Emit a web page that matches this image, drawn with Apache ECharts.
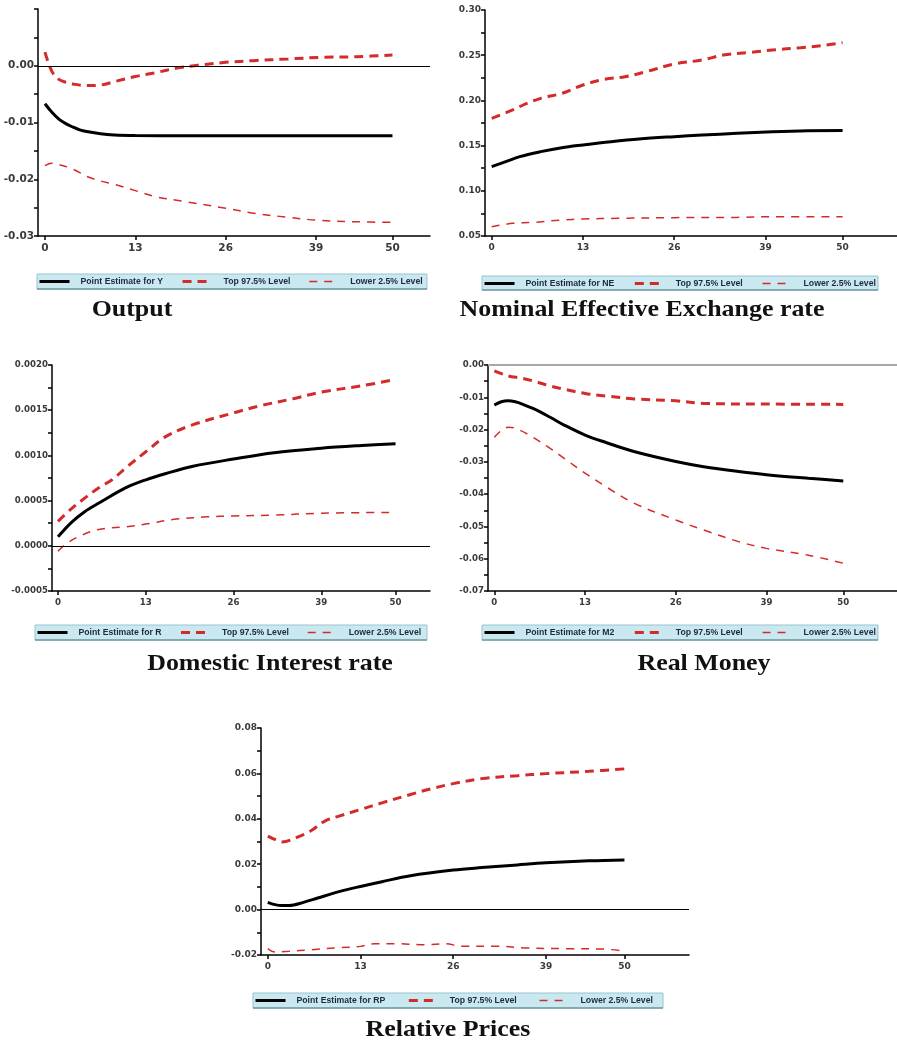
<!DOCTYPE html>
<html>
<head>
<meta charset="utf-8">
<script src="https://cdn.jsdelivr.net/npm/echarts@6/dist/echarts.min.js"></script>
<style>
html,body{margin:0;padding:0;background:#fff;}
#chart{width:897px;height:1048px;}
</style>
</head>
<body>
<div id="chart"></div>
<script>
// ---------- tick labels ----------
const xTickValues = [0, 13, 26, 39, 50];

// ---------- Output (Y) ----------
const outPoint = [[0,-0.0067],[1,-0.0082],[2,-0.0094],[3,-0.0102],[4,-0.0108],[5,-0.0113],[6,-0.0116],[8,-0.0120],[10,-0.0122],[13,-0.0123],[20,-0.01235],[30,-0.01235],[40,-0.01235],[50,-0.01235]];
const outTop = [[0,0.0024],[1,-0.0010],[2,-0.0024],[3,-0.0029],[4,-0.0032],[6,-0.0035],[8,-0.0034],[10,-0.0028],[13,-0.0019],[16,-0.0012],[19,-0.0004],[22,0.0001],[26,0.0006],[30,0.0009],[35,0.0012],[40,0.0015],[45,0.0016],[50,0.0019]];
const outLow = [[0,-0.0176],[1,-0.0172],[2,-0.0174],[4,-0.0182],[6,-0.0195],[8,-0.0203],[10,-0.0209],[13,-0.0220],[16,-0.0231],[20,-0.0239],[26,-0.0251],[30,-0.0260],[35,-0.0267],[39,-0.0272],[45,-0.0275],[50,-0.0276]];

// ---------- Nominal Effective Exchange rate (NE) ----------
const nePoint = [[0,0.1267],[2,0.1322],[4,0.1378],[7,0.1433],[10,0.1477],[13,0.1507],[17,0.1543],[21,0.1573],[26,0.1599],[30,0.1617],[35,0.1636],[40,0.1654],[45,0.1665],[50,0.1667]];
const neTop = [[0,0.1802],[3,0.1894],[5,0.1967],[7,0.2023],[10,0.2078],[13,0.2170],[16,0.2233],[19,0.2262],[22,0.2318],[26,0.2403],[30,0.2447],[33,0.2502],[37,0.2532],[40,0.2558],[44,0.2583],[47,0.2605],[50,0.2639]];
const neLow = [[0,0.0603],[3,0.0640],[6,0.0651],[10,0.0677],[13,0.0688],[18,0.0696],[26,0.0703],[35,0.0706],[40,0.0714],[50,0.0714]];

// ---------- Domestic Interest rate (R) ----------
const rPoint = [[0,0.00010],[2,0.00026],[4,0.00038],[6,0.00047],[10,0.00064],[13,0.00073],[16,0.00080],[20,0.00088],[26,0.00096],[32,0.00103],[39,0.00108],[45,0.00111],[50,0.00113]];
const rTop = [[0,0.00027],[2,0.00041],[4,0.00053],[6,0.00064],[8,0.00073],[10,0.00086],[13,0.00104],[16,0.00121],[20,0.00134],[26,0.00147],[30,0.00155],[35,0.00163],[39,0.00170],[45,0.00177],[50,0.00184]];
const rLow = [[0,-0.00006],[1,0.00001],[3,0.00010],[6,0.00018],[10,0.00021],[13,0.00024],[17,0.00029],[22,0.00032],[26,0.00033],[32,0.00034],[39,0.00036],[50,0.00037]];

// ---------- Real Money (M2) ----------
const m2Point = [[0,-0.0124],[1,-0.0114],[2,-0.0111],[3,-0.0114],[4,-0.0121],[6,-0.0139],[8,-0.0162],[10,-0.0186],[13,-0.0217],[16,-0.0240],[20,-0.0268],[26,-0.0299],[30,-0.0315],[35,-0.0330],[39,-0.0340],[45,-0.0351],[50,-0.0359]];
const m2Top = [[0,-0.0018],[2,-0.0034],[4,-0.0041],[6,-0.0052],[8,-0.0065],[10,-0.0075],[13,-0.0088],[16,-0.0096],[20,-0.0105],[26,-0.0111],[30,-0.0119],[39,-0.0121],[50,-0.0122]];
const m2Low = [[0,-0.0224],[1,-0.0203],[2,-0.0193],[3,-0.0196],[5,-0.0217],[8,-0.0258],[10,-0.0289],[13,-0.0335],[16,-0.0377],[20,-0.0428],[26,-0.0480],[30,-0.0511],[35,-0.0547],[39,-0.0568],[45,-0.0589],[50,-0.0614]];

// ---------- Relative Prices (RP) ----------
const rpPoint = [[0,0.0032],[1,0.0022],[2,0.0018],[3,0.0018],[5,0.0032],[7,0.0051],[10,0.0079],[13,0.0102],[16,0.0123],[20,0.0149],[26,0.0174],[30,0.0185],[35,0.0197],[39,0.0206],[45,0.0215],[50,0.0219]];
const rpTop = [[0,0.0324],[1,0.0309],[2,0.0298],[4,0.0317],[6,0.0346],[8,0.0390],[10,0.0412],[13,0.0441],[16,0.0470],[20,0.0507],[23,0.0533],[26,0.0555],[30,0.0577],[35,0.0590],[39,0.0599],[45,0.0609],[50,0.0620]];
const rpLow = [[0,-0.0172],[1,-0.0187],[3,-0.0184],[6,-0.0177],[10,-0.0168],[13,-0.0162],[15,-0.0150],[18,-0.0150],[22,-0.0155],[25,-0.0150],[27,-0.0161],[32,-0.0161],[36,-0.0169],[42,-0.0172],[47,-0.0174],[50,-0.0182]];

// ---------- names ----------
const titles = ['Output', 'Nominal Effective Exchange rate', 'Domestic Interest rate', 'Real Money', 'Relative Prices'];
const pointNames = ['Point Estimate for Y', 'Point Estimate for NE', 'Point Estimate for R', 'Point Estimate for M2', 'Point Estimate for RP'];
const topName = 'Top 97.5% Level';
const lowName = 'Lower 2.5% Level';

// y axis ranges: [min, max, tick interval, label interval, decimals]
const yRanges = [
  [-0.03, 0.01, 0.005, 0.01, 2],
  [0.05, 0.30, 0.025, 0.05, 2],
  [-0.0005, 0.0020, 0.00025, 0.0005, 4],
  [-0.07, 0.00, 0.005, 0.01, 2],
  [-0.02, 0.08, 0.01, 0.02, 2]
];
const panelData = [
  [outPoint, outTop, outLow],
  [nePoint, neTop, neLow],
  [rPoint, rTop, rLow],
  [m2Point, m2Top, m2Low],
  [rpPoint, rpTop, rpLow]
];

// ---------- layout (positions / styles) ----------
const layout = [
  {grid:{left:38, top:9, width:392, height:227}, xr:[-1, 55.4], hideTop:true, zero:'#000', fs:10.5,
   bar:[37,274,390,15], legendGap:18, title:[132,298]},
  {grid:{left:485, top:10, width:412, height:226}, xr:[-0.95, 57.75], hideTop:false, zero:null, fs:9,
   bar:[482,276,396,14], legendGap:19, title:[642,298]},
  {grid:{left:52, top:365, width:378, height:226}, xr:[-0.89, 55.1], hideTop:false, zero:'#000', fs:8.6,
   bar:[35,625,392,15], legendGap:18, title:[270,652]},
  {grid:{left:488, top:365, width:409, height:226}, xr:[-0.91, 57.7], hideTop:false, zero:'#a8a8a8', fs:8.6,
   bar:[482,625,396,15], legendGap:19, title:[704,652]},
  {grid:{left:261, top:728, width:428, height:227}, xr:[-0.95, 59.05], hideTop:false, zero:'#000', fs:9,
   bar:[253,993,410,15], legendGap:22, title:[448,1018]}
];

const RED = '#d42a2a';

function yFormatter(major, dec, maxHide) {
  return function (v) {
    const k = v / major;
    const r = Math.round(k);
    if (Math.abs(k - r) > 1e-6) return '';
    if (maxHide !== null && v >= maxHide - 1e-12) return '';
    if (r === 0) return (0).toFixed(dec);
    return (r * major).toFixed(dec);
  };
}

const grids = [], xAxes = [], yAxes = [], series = [], legends = [], graphics = [];

layout.forEach((L, i) => {
  const yr = yRanges[i];
  const labelFont = {fontFamily:'DejaVu Sans', fontWeight:'bold', fontSize:L.fs, color:'#3a3a3a'};
  grids.push(Object.assign({containLabel:false}, L.grid));
  xAxes.push({
    type:'value', gridIndex:i, min:L.xr[0], max:L.xr[1],
    axisLine:{show:true, onZero:false, lineStyle:{color:'#000', width:1.5}},
    axisTick:{show:true, customValues:xTickValues, length:4, lineStyle:{color:'#000', width:1.5}},
    axisLabel:Object.assign({customValues:xTickValues, margin:7, formatter:(v)=>String(Math.round(v))}, labelFont),
    splitLine:{show:false}
  });
  yAxes.push({
    type:'value', gridIndex:i, min:yr[0], max:yr[1], interval:yr[2],
    axisLine:{show:true, onZero:false, lineStyle:{color:'#000', width:1.5}},
    axisTick:{show:true, length:4, lineStyle:{color:'#000', width:1.5}},
    axisLabel:Object.assign({margin:4, showMinLabel:true, showMaxLabel:true,
      formatter:yFormatter(yr[3], yr[4], L.hideTop ? yr[1] : null)}, labelFont),
    splitLine:{show:false}
  });
  const d = panelData[i];
  const pointSeries = {
    name:pointNames[i], type:'line', xAxisIndex:i, yAxisIndex:i, data:d[0],
    smooth:0.35, symbol:'none', lineStyle:{color:'#000', width:3}, itemStyle:{color:'#000'}, z:3
  };
  if (L.zero) {
    pointSeries.markLine = {silent:true, symbol:'none', label:{show:false},
      lineStyle:{color:L.zero, width:L.zero === '#000' ? 1.2 : 2, type:'solid'},
      data:[{yAxis:0}]};
  }
  series.push(pointSeries);
  series.push({
    name:topName, type:'line', xAxisIndex:i, yAxisIndex:i, data:d[1],
    smooth:0.35, symbol:'none', lineStyle:{color:RED, width:3, type:[9,6]}, itemStyle:{color:RED}, z:2
  });
  series.push({
    name:lowName, type:'line', xAxisIndex:i, yAxisIndex:i, data:d[2],
    smooth:0.35, symbol:'none', lineStyle:{color:RED, width:1.5, type:[8,7]}, itemStyle:{color:RED}, z:2
  });

  // legend bar background
  const b = L.bar;
  graphics.push({type:'rect', z:0, shape:{x:b[0], y:b[1], width:b[2], height:b[3]},
    style:{fill:'#c9e8f0', stroke:'#9cc3cd', lineWidth:1}});
  graphics.push({type:'line', z:0, shape:{x1:b[0], y1:b[1]+b[3], x2:b[0]+b[2], y2:b[1]+b[3]},
    style:{stroke:'#6f9aa6', lineWidth:1.5}});

  const hidden = {opacity:0, color:'rgba(0,0,0,0)', borderWidth:0};
  legends.push({
    left:b[0] + 1, top:b[1] + 3, padding:0, itemWidth:30, itemHeight:9,
    itemGap:L.legendGap, selectedMode:false,
    textStyle:{fontFamily:'Liberation Sans', fontWeight:'bold', fontSize:8.7, color:'#1c2940', padding:[0,0,0,6]},
    data:[
      {name:pointNames[i], lineStyle:{width:3}, itemStyle:hidden},
      {name:topName, lineStyle:{width:3}, itemStyle:hidden},
      {name:lowName, lineStyle:{width:1.5}, itemStyle:hidden}
    ]
  });

  graphics.push({type:'text', z:5, x:L.title[0], y:L.title[1], scaleX:1.08,
    style:{text:titles[i], font:'bold 24px "Liberation Serif"', fill:'#111', textAlign:'center', textVerticalAlign:'top'}});
});

const chart = echarts.init(document.getElementById('chart'), null, {renderer:'canvas'});
chart.setOption({
  animation:false,
  backgroundColor:'#fff',
  grid:grids, xAxis:xAxes, yAxis:yAxes, series:series, legend:legends,
  graphic:graphics
});
</script>
</body>
</html>
